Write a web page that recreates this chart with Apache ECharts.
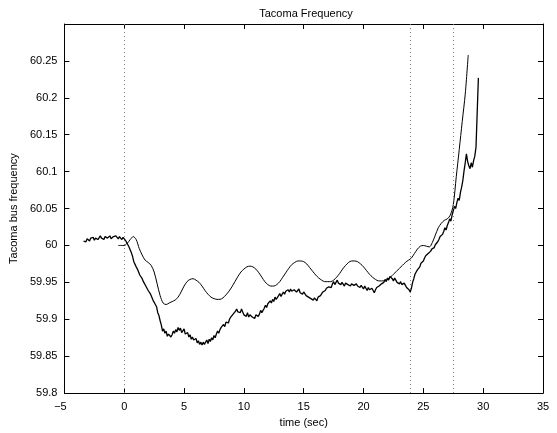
<!DOCTYPE html>
<html>
<head>
<meta charset="utf-8">
<title>Tacoma Frequency</title>
<script src="https://cdn.jsdelivr.net/npm/echarts@6/dist/echarts.min.js"></script>
<style>
  html, body { margin: 0; padding: 0; background: #fff; }
  #chart { width: 557px; height: 433px; }
</style>
</head>
<body>
<div id="chart"></div>
<script>
// Axis ranges and ticks
const xTicks = { min: -5, max: 35, step: 5 };
const yTicks = { min: 59.8, max: 60.3, step: 0.05 };

// Switching events (s), drawn as dotted vertical markers
const eventTimes = [0, 23.9, 27.5];

// Simulated bus frequency (Hz), sampled every 0.25 s from -0.5 s
const simStart = -0.5;
const simStep = 0.25;
const simFreq = [
  60.000, 60.000,
  60.000, 60.003, 60.008, 60.012, 60.008, 59.996, 59.987, 59.980,
  59.977, 59.973, 59.964, 59.948, 59.932, 59.922, 59.920, 59.922,
  59.924, 59.926, 59.930, 59.937, 59.945, 59.951, 59.954, 59.955,
  59.953, 59.950, 59.945, 59.939, 59.934, 59.930, 59.928, 59.927,
  59.927, 59.929, 59.933, 59.938, 59.944, 59.951, 59.958, 59.964,
  59.968, 59.971, 59.972, 59.971, 59.968, 59.963, 59.957, 59.951,
  59.947, 59.945, 59.945, 59.947, 59.951, 59.957, 59.963, 59.969,
  59.974, 59.977, 59.979, 59.979, 59.978, 59.975, 59.970, 59.965,
  59.960, 59.956, 59.953, 59.951, 59.951, 59.951, 59.953, 59.957,
  59.962, 59.968, 59.973, 59.977, 59.979, 59.979, 59.978, 59.975,
  59.971, 59.966, 59.961, 59.957, 59.954, 59.952, 59.952, 59.952,
  59.954, 59.957, 59.961, 59.965, 59.969, 59.973, 59.977, 59.980,
  59.983, 59.989, 59.995, 59.999, 60.000, 59.999, 59.998, 60.004,
  60.014, 60.024, 60.030, 60.034, 60.036, 60.041, 60.055, 60.093,
  60.130, 60.168, 60.205, 60.258
];

// Recorded bus frequency (Hz), sampled every 0.1 s from -3.4 s (one row per second)
const recStart = -3.4;
const recStep = 0.1;
const recFreq = [
  60.006, 60.008, 60.005, 60.009, 60.007, 60.006, 60.010, 60.008, 60.011, 60.007,
  60.010, 60.012, 60.008, 60.009, 60.013, 60.010, 60.011, 60.008, 60.012, 60.014,
  60.010, 60.011, 60.013, 60.009, 60.008, 60.012, 60.010, 60.013, 60.011, 60.009,
  60.012, 60.010, 60.008, 60.011, 60.009, 60.007, 60.006, 60.001, 59.998, 59.994,
  59.990, 59.985, 59.978, 59.980, 59.971, 59.968, 59.964, 59.960, 59.962, 59.955,
  59.951, 59.949, 59.945, 59.947, 59.939, 59.937, 59.934, 59.932, 59.926, 59.924,
  59.920, 59.917, 59.909, 59.905, 59.898, 59.892, 59.884, 59.887, 59.881, 59.884,
  59.877, 59.880, 59.882, 59.876, 59.879, 59.884, 59.881, 59.886, 59.883, 59.889,
  59.885, 59.888, 59.882, 59.884, 59.887, 59.880, 59.878, 59.882, 59.876, 59.879,
  59.873, 59.876, 59.872, 59.870, 59.874, 59.868, 59.871, 59.866, 59.869, 59.865,
  59.869, 59.866, 59.868, 59.872, 59.867, 59.873, 59.870, 59.875, 59.872, 59.878,
  59.875, 59.880, 59.884, 59.881, 59.886, 59.889, 59.887, 59.893, 59.890, 59.896,
  59.897, 59.895, 59.900, 59.903, 59.901, 59.907, 59.905, 59.911, 59.914, 59.910,
  59.912, 59.909, 59.914, 59.910, 59.906, 59.908, 59.904, 59.909, 59.903, 59.906,
  59.907, 59.903, 59.905, 59.901, 59.906, 59.908, 59.904, 59.907, 59.912, 59.909,
  59.911, 59.915, 59.919, 59.916, 59.921, 59.919, 59.925, 59.922, 59.927, 59.924,
  59.930, 59.927, 59.929, 59.932, 59.935, 59.931, 59.933, 59.937, 59.934, 59.938,
  59.936, 59.940, 59.937, 59.941, 59.938, 59.936, 59.940, 59.942, 59.937, 59.939,
  59.941, 59.936, 59.938, 59.934, 59.937, 59.935, 59.932, 59.934, 59.930, 59.932,
  59.928, 59.930, 59.926, 59.929, 59.927, 59.925, 59.930, 59.928, 59.932, 59.934,
  59.937, 59.935, 59.939, 59.942, 59.940, 59.944, 59.946, 59.943, 59.948, 59.951,
  59.947, 59.950, 59.953, 59.949, 59.951, 59.947, 59.950, 59.948, 59.945, 59.949,
  59.951, 59.947, 59.949, 59.945, 59.948, 59.950, 59.946, 59.944, 59.948, 59.945,
  59.947, 59.943, 59.946, 59.944, 59.941, 59.945, 59.942, 59.939, 59.943, 59.940,
  59.938, 59.942, 59.939, 59.936, 59.940, 59.943, 59.941, 59.945, 59.943, 59.948,
  59.946, 59.950, 59.954, 59.951, 59.956, 59.953, 59.958, 59.960, 59.955, 59.952,
  59.956, 59.953, 59.950, 59.952, 59.948, 59.951, 59.947, 59.945, 59.949, 59.946,
  59.943, 59.945, 59.940, 59.937, 59.942, 59.950, 59.955, 59.961, 59.964, 59.967,
  59.966, 59.971, 59.976, 59.974, 59.979, 59.983, 59.986, 59.984, 59.989, 59.987,
  59.992, 59.995, 59.993, 59.997, 60.001, 59.999, 60.005, 60.008, 60.012, 60.010,
  60.015, 60.019, 60.024, 60.021, 60.027, 60.031, 60.036, 60.033, 60.041, 60.047,
  60.053, 60.050, 60.058, 60.064, 60.061, 60.072, 60.079, 60.088, 60.101, 60.112,
  60.124, 60.114, 60.108, 60.104, 60.112, 60.106, 60.115, 60.121, 60.133, 60.180,
  60.227
];

const toPairs = (start, step, values) =>
  values.map((v, i) => [+(start + i * step).toFixed(3), v]);

const FONT = 'Liberation Sans, Arial, Helvetica, sans-serif';
const INK = '#000';

const fmtTick = v => String(+v.toFixed(2)).replace('-', '\u2212');
// Negative x labels hang the minus sign left of the tick, digits centred on it
const fmtXTick = v => v < 0 ? '{neg|' + fmtTick(v) + '}' : fmtTick(v);

const boxAxis = (showLabels) => ({
  axisLine: { show: true, onZero: false, lineStyle: { color: INK, width: 1 } },
  axisTick: { show: true, inside: true, length: 5, lineStyle: { color: INK, width: 1 } },
  splitLine: { show: false },
  axisLabel: {
    show: showLabels, color: INK, fontFamily: FONT, fontSize: 11,
    formatter: fmtTick
  }
});

const chart = echarts.init(document.getElementById('chart'), null, { renderer: 'canvas' });

chart.setOption({
  animation: false,
  backgroundColor: '#fff',
  title: {
    text: 'Tacoma Frequency',
    left: 301, top: 3, textAlign: 'center',
    textStyle: { color: INK, fontFamily: FONT, fontSize: 11, fontWeight: 'normal' }
  },
  grid: { left: 60, right: 14, top: 24, bottom: 29, containLabel: false },
  xAxis: [
    Object.assign(boxAxis(true), {
      type: 'value', position: 'bottom',
      min: xTicks.min, max: xTicks.max, interval: xTicks.step,
      name: 'time (sec)', nameLocation: 'middle', nameGap: 19,
      nameTextStyle: { color: INK, fontFamily: FONT, fontSize: 11 }
    }),
    Object.assign(boxAxis(false), {
      type: 'value', position: 'top',
      min: xTicks.min, max: xTicks.max, interval: xTicks.step
    })
  ],
  yAxis: [
    Object.assign(boxAxis(true), {
      type: 'value', position: 'left',
      min: yTicks.min, max: yTicks.max, interval: yTicks.step,
      name: 'Tacoma bus frequency', nameLocation: 'middle', nameGap: 40,
      nameTextStyle: { color: INK, fontFamily: FONT, fontSize: 11 }
    }),
    Object.assign(boxAxis(false), {
      type: 'value', position: 'right',
      min: yTicks.min, max: yTicks.max, interval: yTicks.step
    })
  ],
  series: [
    {
      name: 'simulated',
      type: 'line',
      data: toPairs(simStart, simStep, simFreq),
      smooth: 0.3,
      showSymbol: false,
      lineStyle: { color: INK, width: 1 },
      z: 3,
      markLine: {
        silent: true,
        symbol: ['none', 'none'],
        label: { show: false },
        lineStyle: { color: '#777', type: [1, 3], width: 1 },
        data: eventTimes.map(t => ({ xAxis: t }))
      }
    },
    {
      name: 'recorded',
      type: 'line',
      data: toPairs(recStart, recStep, recFreq),
      showSymbol: false,
      lineStyle: { color: INK, width: 1.3 },
      z: 4
    }
  ]
});

// Left y axis: labels sit a little off the line; the top tick (60.3) stays unlabeled.
// Bottom x axis: rich style for negative labels.
chart.setOption({
  xAxis: [{
    axisLabel: {
      formatter: fmtXTick,
      rich: { neg: { color: INK, fontFamily: FONT, fontSize: 11, padding: [0, 8, 0, 0] } }
    }
  }, {}],
  yAxis: [{ axisLabel: { showMaxLabel: false, margin: 7 } }, {}]
});
</script>
</body>
</html>
